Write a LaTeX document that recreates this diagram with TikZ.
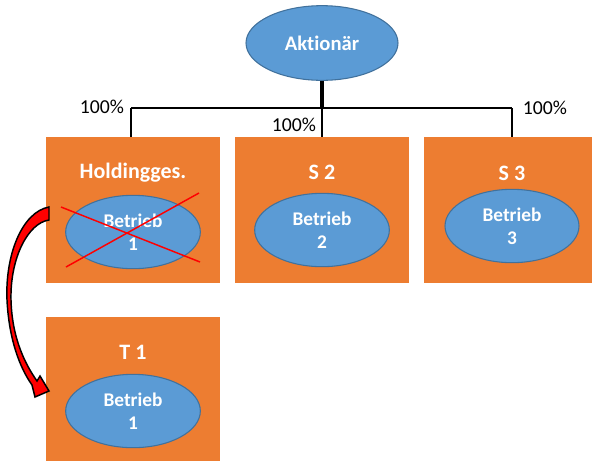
\documentclass[tikz,border=0pt]{standalone}
\usepackage{fontspec}
\setmainfont{Carlito}[Ligatures=NoCommon]
\usetikzlibrary{shapes.geometric}
\definecolor{orng}{HTML}{ED7D31}
\definecolor{blu}{HTML}{5B9BD5}
\definecolor{bluedge}{HTML}{41719C}
\begin{document}
\begin{tikzpicture}[x=0.75pt,y=-0.75pt,
 company/.style={rectangle, fill=orng, draw=none, minimum width=130.5pt, minimum height=109.5pt, inner sep=0pt},
 betrieb/.style={ellipse, fill=blu, draw=bluedge, line width=0.8pt, minimum width=101pt, minimum height=55pt, inner sep=0pt, text=white, font=\bfseries\fontsize{14.5}{17}\selectfont, align=center},
 titletext/.style={text=white, font=\bfseries\fontsize{16.5}{19}\selectfont, inner sep=0pt},
 pct/.style={font=\fontsize{14.8}{17}\selectfont, inner sep=0pt},
 link/.style={line width=1.1pt},
 mainlink/.style={line width=2.4pt},
 cross/.style={red, line width=1.1pt},
 movearrow/.style={fill=red, draw=black, line width=1.1pt, line join=miter}]
\useasboundingbox (0,0) rectangle (592,461);
\begin{scope}
\clip (0,0) rectangle (592,461);
% companies
\node[company] (b1) at (133,210) {};
\node[company] (b2) at (322,210) {};
\node[company] (b3) at (511,210) {};
\node[company, minimum height=108pt] (b4) at (133,389) {};
% titles
\node[titletext] (t1) at (133,173) {Holdingges.};
\node[titletext] (t2) at (322,172) {S 2};
\node[titletext] (t3) at (512,173) {S 3};
\node[titletext] (t4) at (133,352) {T 1};
% betriebe
\node[betrieb] (e1) at (133,232) {Betrieb\\1};
\node[betrieb] (e2) at (322,230) {Betrieb\\2};
\node[betrieb, minimum width=100.5pt] (e3) at (512,226) {Betrieb\\3};
\node[betrieb] (e4) at (133,411) {Betrieb\\1};
% shareholder
\node[betrieb, minimum width=114pt, minimum height=56pt, font=\bfseries\fontsize{15.5}{18}\selectfont] (akt) at (322,43) {Aktionär};
% connectors
\coordinate (j) at (322,108);
\coordinate (jl) at (131,108);
\coordinate (jr) at (512,108);
\draw[mainlink] (akt.south) -- (j);
\draw[link] (jl) -- (jr);
\draw[link] (jl) -- (jl |- b1.north);
\draw[link] (j) -- (b2.north);
\draw[link] (jr) -- (jr |- b3.north);
% percentages
\node[pct] (p1) at (102,107) {100\%};
\node[pct] (p2) at (294,125) {100\%};
\node[pct] (p3) at (545,108) {100\%};
% cross
\draw[cross] (61,207) -- (200,262);
\draw[cross] (66,267) -- (199,193);
% curved arrow
\draw[movearrow] (49,207) .. controls (22,212) and (5,255) .. (7,300)
  .. controls (9,340) and (20,368) .. (32,385)
  -- (35,397) -- (49,391) -- (40,376) -- (37,381)
  .. controls (25,364) and (12,338) .. (11,300)
  .. controls (10,258) and (28,223) .. (49,220) -- cycle;
\end{scope}
\end{tikzpicture}
\end{document}
